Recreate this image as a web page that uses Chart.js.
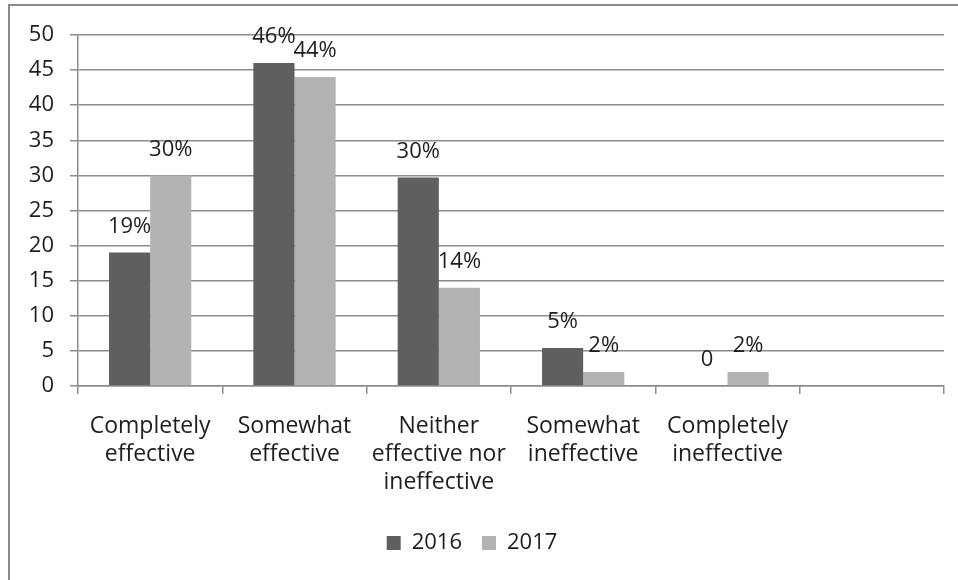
<!DOCTYPE html>
<html>
<head>
<meta charset="utf-8">
<script src="https://cdn.jsdelivr.net/npm/chart.js@4/dist/chart.umd.min.js"></script>
<style>
  html, body { margin: 0; padding: 0; background: #fff; overflow: hidden; }
  #frame {
    position: absolute; left: 8px; top: 4px; width: 1000px; height: 700px;
    border-left: 2px solid #8a8a8a; border-top: 2px solid #8a8a8a;
  }
  #wrap { position: absolute; left: 0; top: 0; width: 958px; height: 580px; }
</style>
</head>
<body>
<div id="frame"></div>
<div id="wrap"><canvas id="chart" width="958" height="580"></canvas></div>
<script>
const categories = [
    ['Completely', 'effective'],
    ['Somewhat', 'effective'],
    ['Neither', 'effective nor', 'ineffective'],
    ['Somewhat', 'ineffective'],
    ['Completely', 'ineffective'],
    ''
]
const values2016 = [19, 46, 29.7, 5.4, 0, null]
const values2017 = [30, 44, 14, 2, 2, null]
const labels2016 = ['19%', '46%', '30%', '5%', '0', '']
const labels2017 = ['30%', '44%', '14%', '2%', '2%', '']

const fontName = "'Open Sans', sans-serif"
const textColor = '#1e1e1e'
const gridColor = '#8c8c8c'

// draws the value labels above each bar
const barLabels = {
    id: 'barLabels',
    afterDatasetsDraw(chart) {
        const ctx = chart.ctx
        ctx.save()
        ctx.font = `22px ${fontName}`
        ctx.fillStyle = textColor
        ctx.textAlign = 'center'
        ctx.textBaseline = 'middle'
        chart.data.datasets.forEach((ds, i) => {
            const meta = chart.getDatasetMeta(i)
            meta.data.forEach((bar, j) => {
                const txt = ds.valueLabels[j]
                if (!txt) return
                ctx.fillText(txt, bar.x, bar.y - 26)
            })
        })
        ctx.restore()
    }
}

new Chart(document.getElementById('chart'), {
    type: 'bar',
    data: {
        labels: categories,
        datasets: [
            { label: '2016', data: values2016, valueLabels: labels2016, backgroundColor: '#5f5f5f' },
            { label: '2017', data: values2017, valueLabels: labels2017, backgroundColor: '#b3b3b3' }
        ]
    },
    options: {
        responsive: false,
        animation: false,
        devicePixelRatio: 1,
        layout: { padding: { top: 35, right: 14, left: 0, bottom: 16 } },
        datasets: { bar: { barPercentage: 1.0, categoryPercentage: 0.57 } },
        scales: {
            x: {
                grid: { offset: true, drawOnChartArea: false, color: gridColor, lineWidth: 1.5, tickLength: 8 },
                border: { color: gridColor, width: 1.5 },
                ticks: { color: textColor, font: { family: fontName, size: 23, lineHeight: 1.22 }, padding: 18, maxRotation: 0, autoSkip: false },
                afterFit(scale) { scale.height = 126 }
            },
            y: {
                min: 0, max: 50,
                grid: { color: gridColor, lineWidth: 1.5, tickLength: 8 },
                border: { color: gridColor, width: 1.5 },
                ticks: { stepSize: 5, color: textColor, font: { family: fontName, size: 22 }, padding: 16 },
                afterFit(scale) { scale.width = 78 }
            }
        },
        plugins: {
            legend: {
                position: 'bottom',
                labels: { boxWidth: 14, boxHeight: 14, padding: 20, color: textColor, font: { family: fontName, size: 22 } }
            },
            tooltip: { enabled: false }
        }
    },
    plugins: [barLabels]
})
</script>
</body>
</html>
